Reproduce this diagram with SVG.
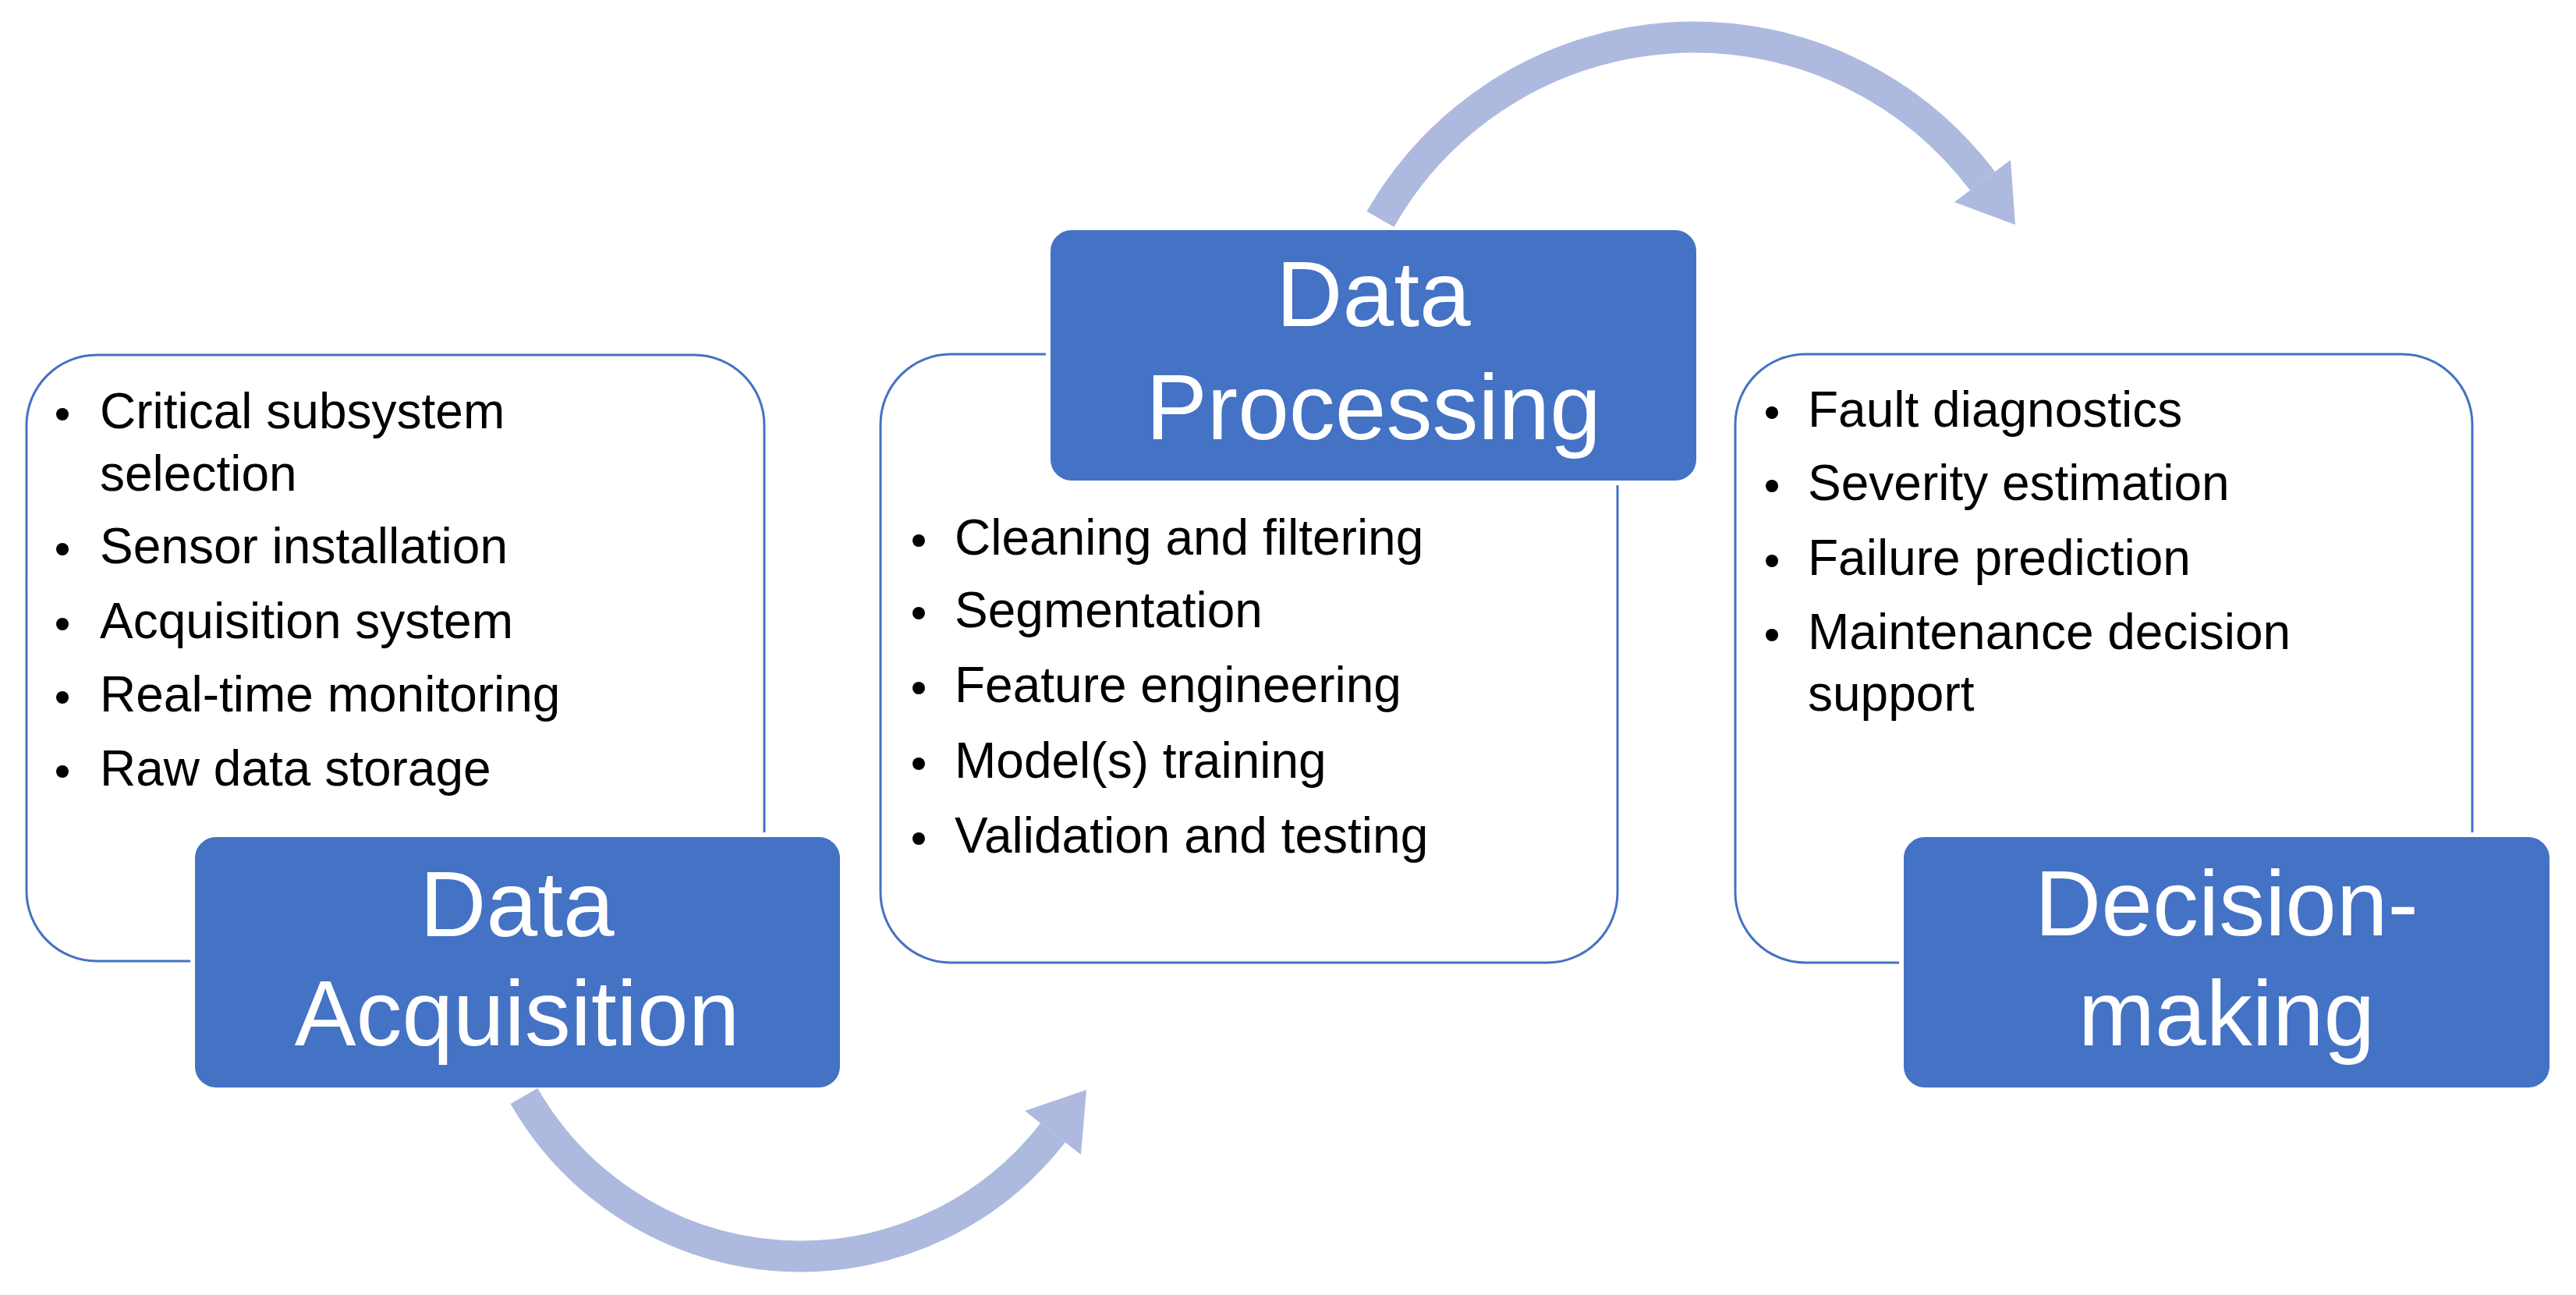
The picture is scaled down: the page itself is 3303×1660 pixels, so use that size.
<svg xmlns="http://www.w3.org/2000/svg" width="3303" height="1660" viewBox="0 0 3303 1660">
<style>
.panel{fill:#fff;stroke:#4472C4;stroke-width:3}
.head{fill:#4472C4;stroke:#fff;stroke-width:6}
.ht{font-family:"Liberation Sans",Arial,sans-serif;font-size:118px;fill:#fff;text-anchor:middle}
.bt{font-family:"Liberation Sans",Arial,sans-serif;font-size:64px;fill:#000}
.arc{fill:none;stroke:#ADB9DF;stroke-width:40}
.ah{fill:#ADB9DF}
</style>
<g id="panel-acq"><rect class="panel" x="34" y="455" width="946" height="777" rx="90"/>
<g class="bt"><circle cx="80" cy="531" r="8"/><text x="128" y="549">Critical subsystem</text><text x="128" y="629">selection</text>
<circle cx="80" cy="704" r="8"/><text x="128" y="722">Sensor installation</text>
<circle cx="80" cy="800" r="8"/><text x="128" y="818">Acquisition system</text>
<circle cx="80" cy="894" r="8"/><text x="128" y="912">Real-time monitoring</text>
<circle cx="80" cy="989" r="8"/><text x="128" y="1007">Raw data storage</text></g></g>
<g id="panel-proc"><rect class="panel" x="1129" y="454" width="945" height="780" rx="90"/>
<g class="bt"><circle cx="1178" cy="693" r="8"/><text x="1224" y="711">Cleaning and filtering</text>
<circle cx="1178" cy="786" r="8"/><text x="1224" y="804">Segmentation</text>
<circle cx="1178" cy="882" r="8"/><text x="1224" y="900">Feature engineering</text>
<circle cx="1178" cy="979" r="8"/><text x="1224" y="997">Model(s) training</text>
<circle cx="1178" cy="1075" r="8"/><text x="1224" y="1093">Validation and testing</text></g></g>
<g id="panel-dec"><rect class="panel" x="2225" y="454" width="945" height="780" rx="90"/>
<g class="bt"><circle cx="2272" cy="529" r="8"/><text x="2318" y="547">Fault diagnostics</text>
<circle cx="2272" cy="623" r="8"/><text x="2318" y="641">Severity estimation</text>
<circle cx="2272" cy="719" r="8"/><text x="2318" y="737">Failure prediction</text>
<circle cx="2272" cy="814" r="8"/><text x="2318" y="832">Maintenance decision</text><text x="2318" y="911">support</text></g></g>
<g id="head-acq"><rect class="head" x="247" y="1070" width="833" height="327" rx="30"/><text class="ht" x="663" y="1200">Data</text><text class="ht" x="663" y="1340">Acquisition</text></g>
<g id="head-proc"><rect class="head" x="1344" y="292" width="834" height="327" rx="30"/><text class="ht" x="1761" y="418">Data</text><text class="ht" x="1761" y="563">Processing</text></g>
<g id="head-dec"><rect class="head" x="2438" y="1070" width="834" height="327" rx="30"/><text class="ht" x="2855" y="1199">Decision-</text><text class="ht" x="2855" y="1340">making</text></g>
<g id="connectors">
<path class="arc" d="M672 1405 A409 409 0 0 0 1350 1452"/>
<polygon class="ah" points="1386,1480 1314,1424 1393,1397"/>
<path class="arc" d="M1770 281 A463 463 0 0 1 2542 232"/>
<polygon class="ah" points="2578,205 2506,259 2584,288"/>
</g>
</svg>
